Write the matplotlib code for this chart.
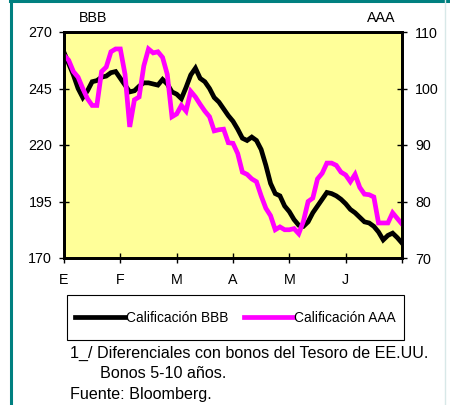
import matplotlib
matplotlib.use("Agg")
import matplotlib.pyplot as plt
from matplotlib.patches import Rectangle
from matplotlib.lines import Line2D

plt.rcParams['font.family'] = ['Liberation Sans', 'DejaVu Sans']

month_labels = ["E", "F", "M", "A", "M", "J"]
points_per_month = 12

bbb = [261, 256, 251, 245, 241, 244, 248, 248.5, 250, 250.5, 252, 252.5,
       249.5, 246.5, 243.5, 244, 246, 247.5, 247.5, 247, 246.5, 249, 247, 243.5,
       242.5, 240.5, 245.5, 251, 254, 249.5, 248, 245, 241, 239, 236, 233,
       230.5, 227, 223, 222, 223.5, 222, 218, 211, 203, 198.5, 197.5, 193,
       190.5, 187, 184.5, 184, 186, 190, 193, 196, 199, 198.5, 197.5, 196,
       194, 191.5, 190, 188, 186, 185.5, 184, 181.5, 178, 180, 181, 179, 176.6]

aaa = [105.9, 105, 103, 102, 100, 98.2, 97, 97, 103, 103.8, 106.5, 107,
       107, 102.5, 93.2, 98, 98.5, 104, 107, 106.3, 106.5, 105.5, 102.5, 95,
       95.5, 97, 96, 99.5, 98.5, 97.2, 96, 95, 92.5, 92.7, 92.8, 90.4,
       90.3, 88.5, 85.2, 84.8, 84, 83.5, 81, 78.8, 77.5, 75, 75.5, 75,
       75, 75.2, 74.3, 76.5, 80, 80.6, 84, 85, 86.8, 86.8, 86.4, 85.2,
       84.7, 83.5, 84.8, 82.5, 81.3, 81.2, 80.8, 76.2, 76.2, 76.2, 78, 77, 76]

left_ticks = [170, 195, 220, 245, 270]
right_ticks = [70, 80, 90, 100, 110]

W, H = 450, 405
fig = plt.figure(figsize=(W / 100, H / 100), dpi=100)
fig.patch.set_facecolor("white")

# frame decorations
teal = "#008080"
fig.add_artist(Line2D([10.5 / W, 10.5 / W], [0, 1], color=teal, lw=2.2, transform=fig.transFigure))
fig.add_artist(Line2D([10 / W, 1], [1 - 1 / H, 1 - 1 / H], color=teal, lw=2.2, transform=fig.transFigure))
fig.add_artist(Line2D([445 / W, 445 / W], [0, 1], color="#d8e8e8", lw=1, transform=fig.transFigure))

x0, x1, y0, y1 = 64, 402, 32, 258
ax = fig.add_axes([x0 / W, 1 - y1 / H, (x1 - x0) / W, (y1 - y0) / H])
ax.set_facecolor("#FFFF99")
ax2 = ax.twinx()

xs = list(range(len(bbb)))
lb, = ax.plot(xs, bbb, color="black", lw=3.4, solid_joinstyle="miter")
la, = ax2.plot(xs, aaa, color="#FF00FF", lw=3.4, solid_joinstyle="miter")

n = len(bbb) - 1
ax.set_xlim(0, n)
ax.set_ylim(170, 270)
ax2.set_ylim(70, 110)
ax.set_yticks(left_ticks)
ax2.set_yticks(right_ticks)
ticks = [i * points_per_month for i in range(len(month_labels) + 1)]
ax.set_xticks(ticks)
ax.set_xticklabels(month_labels + [""])

for a in (ax, ax2):
    for s in a.spines.values():
        s.set_linewidth(2)
    a.tick_params(direction="inout", length=7, width=1, labelsize=10.3)
ax.tick_params(axis="y", pad=5)
ax2.tick_params(axis="y", pad=6)
ax.tick_params(axis="x", pad=7)

fig.text(93 / W, 1 - 18 / H, "BBB", ha="center", va="center", fontsize=10.3)
fig.text(381 / W, 1 - 18 / H, "AAA", ha="center", va="center", fontsize=10.3)

# legend
fig.add_artist(Rectangle((67 / W, 1 - 340 / H), (404 - 67) / W, 45 / H, fill=False,
                         edgecolor="black", lw=0.8, transform=fig.transFigure))
fig.legend([lb, la], ["Calificación BBB", "Calificación AAA"], loc="center",
           bbox_to_anchor=(235.5 / W, 1 - 317.5 / H), ncol=2, frameon=False,
           fontsize=9.9, handlelength=3.6, handletextpad=0.05, columnspacing=1.15)

fig.text(70 / W, 1 - 353 / H, "1_/ Diferenciales con bonos del Tesoro de EE.UU.",
         ha="left", va="center", fontsize=11.6)
fig.text(100 / W, 1 - 374 / H, "Bonos 5-10 años.", ha="left", va="center", fontsize=11.6)
fig.text(70 / W, 1 - 395 / H, "Fuente: Bloomberg.", ha="left", va="center", fontsize=11.6)

fig.savefig("out.png", dpi=100)
